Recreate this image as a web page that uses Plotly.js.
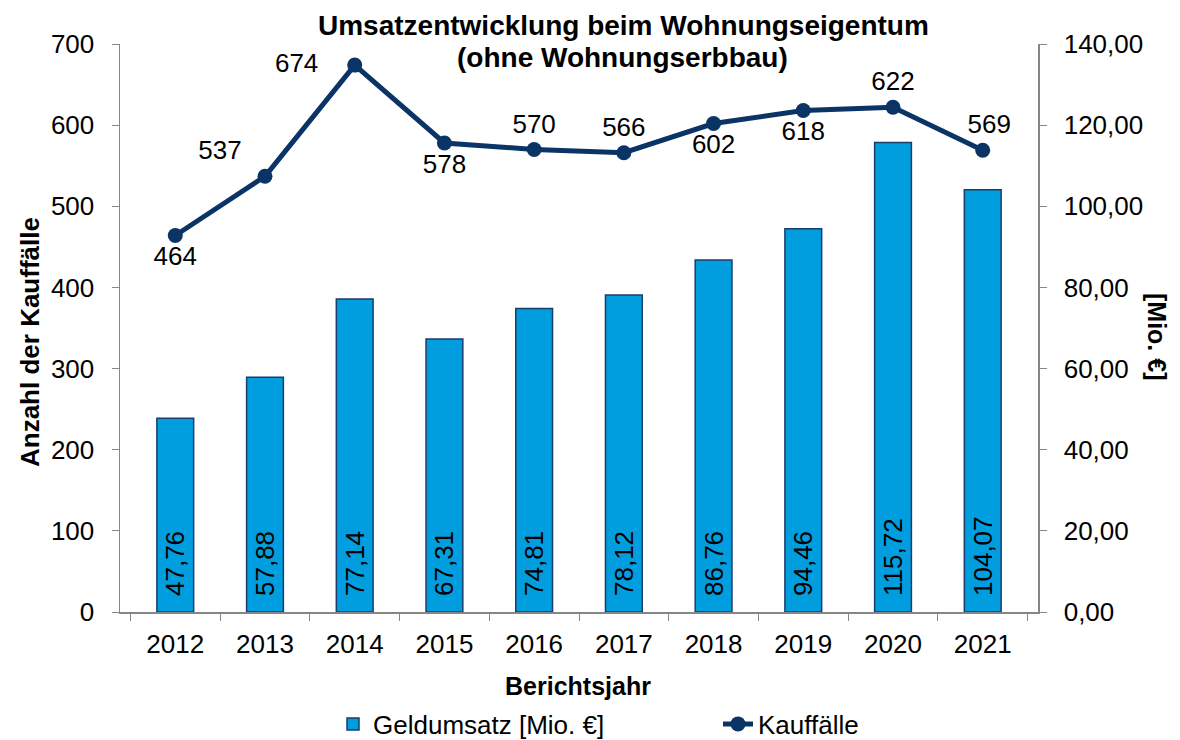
<!DOCTYPE html>
<html>
<head>
<meta charset="utf-8">
<script src="https://cdn.plot.ly/plotly-3.0.1.min.js"></script>
<style>html,body{margin:0;padding:0;background:#fff;}#chart{width:1180px;height:740px;}</style>
</head>
<body>
<div id="chart"></div>
<script>
const years = ['2012','2013','2014','2015','2016','2017','2018','2019','2020','2021'];
const geldumsatz = [47.76, 57.88, 77.14, 67.31, 74.81, 78.12, 86.76, 94.46, 115.72, 104.07];
const kauffaelle = [464, 537, 674, 578, 570, 566, 602, 618, 622, 569];
const kaufLabelPos = ['bottom center','top left','middle left','bottom center','top center','top center','bottom center','bottom center','top center','top center'];
const kaufLabelLead = ['', '', '', '', '', '', '', '', '', '\u2002'];
const kaufLabelTrail = ['', '\u2002', '\u2003', '', '', '', '', '', '', ''];

const FONT = '"Liberation Sans", Arial, sans-serif';
const FS = 26;
const axisGray = '#868686';

const bars = {
  type: 'bar', name: 'Geldumsatz [Mio. €]', x: years, y: geldumsatz, yaxis: 'y2',
  width: 0.41,
  marker: {color: '#009DDF', line: {color: '#1B3D6B', width: 1.5}},
  texttemplate: '\u2002%{y:.2f}', textposition: 'inside', insidetextanchor: 'start',
  textangle: -90, constraintext: 'none', textfont: {family: FONT, size: FS, color: '#000'},
  cliponaxis: false, hoverinfo: 'skip'
};
const line = {
  type: 'scatter', mode: 'lines+markers+text', name: 'Kauffälle', x: years, y: kauffaelle,
  line: {color: '#0B3466', width: 5},
  marker: {color: '#0B3466', size: 15},
  text: kauffaelle.map((v, i) => kaufLabelLead[i] + String(v) + kaufLabelTrail[i]), textposition: kaufLabelPos,
  textfont: {family: FONT, size: FS, color: '#000'},
  cliponaxis: false, hoverinfo: 'skip'
};

const layout = {
  width: 1180, height: 740,
  margin: {l: 120, r: 142, t: 44, b: 128, autoexpand: false},
  paper_bgcolor: '#fff', plot_bgcolor: '#fff',
  separators: ',.',
  font: {family: FONT, size: FS, color: '#000'},
  showlegend: true,
  legend: {orientation: 'h', x: (333-120)/918, xanchor: 'left', y: -(724-612)/568, yanchor: 'middle',
           font: {family: FONT, size: FS, color: '#000'}, traceorder: 'normal', itemwidth: 30,
           entrywidth: 340, entrywidthmode: 'pixels'},
  bargap: 0.59,
  xaxis: {
    type: 'category', showgrid: false, showline: true, linecolor: axisGray, linewidth: 1.5,
    ticks: 'outside', tickson: 'boundaries', ticklen: 7, tickcolor: axisGray, ticklabelstandoff: 8,
    tickfont: {family: FONT, size: FS, color: '#000'}, zeroline: false
  },
  yaxis: {
    range: [0, 700], dtick: 100, showgrid: false, showline: true, linecolor: axisGray, linewidth: 1.5,
    ticks: 'outside', ticklen: 7, tickcolor: axisGray, zeroline: false, ticklabelstandoff: 12,
    tickfont: {family: FONT, size: FS, color: '#000'}
  },
  yaxis2: {
    range: [0, 140], dtick: 20, tickformat: '.2f', overlaying: 'y', side: 'right',
    showgrid: false, showline: true, linecolor: axisGray, linewidth: 1.5,
    ticks: 'outside', ticklen: 7, tickcolor: axisGray, zeroline: false, ticklabelstandoff: 12,
    tickfont: {family: FONT, size: FS, color: '#000'}
  },
  annotations: [
    {text: '<b>Umsatzentwicklung beim Wohnungseigentum</b>',
     xref: 'paper', yref: 'paper', x: (623-120)/918, y: (612-25)/568, xanchor: 'center', yanchor: 'middle',
     showarrow: false, font: {family: FONT, size: 28, color: '#000'}},
    {text: '<b>(ohne Wohnungserbbau)</b>',
     xref: 'paper', yref: 'paper', x: (622-120)/918, y: (612-58)/568, xanchor: 'center', yanchor: 'middle',
     showarrow: false, font: {family: FONT, size: 28, color: '#000'}},
    {text: '<b>Anzahl der Kauffälle</b>', xref: 'paper', yref: 'paper',
     x: (30-120)/918, y: (612-342)/568, xanchor: 'center', yanchor: 'middle', textangle: -90,
     showarrow: false, font: {family: FONT, size: 26, color: '#000'}},
    {text: '<b>[Mio. €]</b>', xref: 'paper', yref: 'paper',
     x: (1157-120)/918, y: (612-337)/568, xanchor: 'center', yanchor: 'middle', textangle: 90,
     showarrow: false, font: {family: FONT, size: 25, color: '#000'}},
    {text: '<b>Berichtsjahr</b>', xref: 'paper', yref: 'paper',
     x: (578-120)/918, y: (612-686)/568, xanchor: 'center', yanchor: 'middle',
     showarrow: false, font: {family: FONT, size: 25, color: '#000'}}
  ]
};

Plotly.newPlot('chart', [bars, line], layout, {displayModeBar: false, staticPlot: true});
</script>
</body>
</html>
